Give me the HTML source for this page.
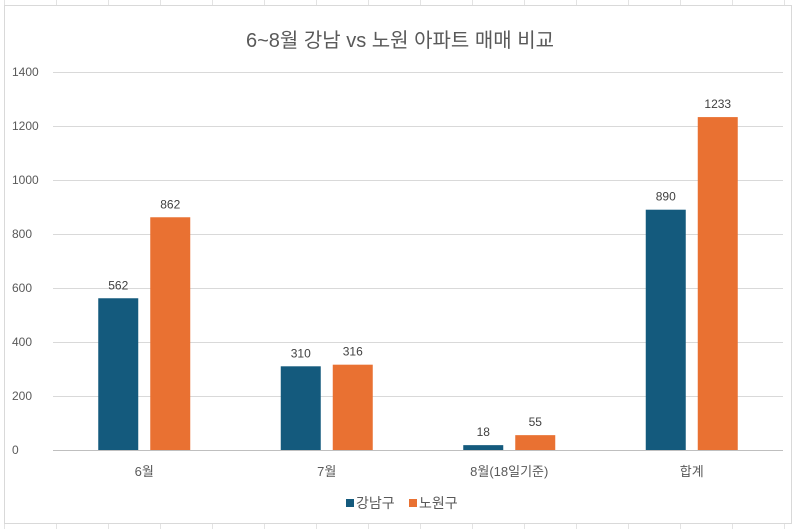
<!DOCTYPE html>
<html><head><meta charset="utf-8"><style>
html,body{margin:0;padding:0;background:#fff;}
svg{display:block;font-family:"Liberation Sans","Noto Sans CJK KR",sans-serif;}
</style></head><body>
<svg id="c" width="800" height="529" viewBox="0 0 800 529">
<g id="bg"></g>
<rect x="4.5" y="5.5" width="787" height="518" fill="#fff" stroke="#d9d9d9"/>
<text x="400" y="47" text-anchor="middle" font-size="20" fill="#595959">6~8월 강남 vs 노원 아파트 매매 비교</text>
<g id="plot"></g>
<g>
<rect x="346" y="499" width="8" height="8" fill="#145a7d"/>
<text x="356" y="508" font-size="14" fill="#595959">강남구</text>
<rect x="409" y="499" width="8" height="8" fill="#e97132"/>
<text x="419" y="508" font-size="14" fill="#595959">노원구</text>
</g>
</svg>
<script>
const categories = ["6월","7월","8월(18일기준)","합계"];
const gangnam = [562,310,18,890];
const nowon = [862,316,55,1233];
const yTicks = [0,200,400,600,800,1000,1200,1400];
const NS="http://www.w3.org/2000/svg";
const x0=53,x1=783,yBase=450,yTop=72,yMax=1400;
const y=v=>yBase-(yBase-yTop)*v/yMax;
const bw=(x1-x0)/categories.length;
const cx=i=>x0+bw*(i+0.5);
const plot=document.getElementById('plot');
function mk(tag,attrs,parent){const e=document.createElementNS(NS,tag);for(const k in attrs)e.setAttribute(k,attrs[k]);(parent||plot).appendChild(e);return e;}
const bg=document.getElementById('bg');
for(let gx=4;gx<800;gx+=52){const l=mk('line',{x1:gx+.5,x2:gx+.5,y1:0,y2:529,stroke:'#e3e3e3'},bg);

}
yTicks.forEach(t=>{
 const l=mk('line',{x1:x0,x2:x1,y1:y(t)+.5,y2:y(t)+.5,stroke:t===0?'#bfbfbf':'#d9d9d9'});
 
 
 const tx=mk('text',{x:12,y:y(t)+4,'font-size':12,fill:'#595959'});
 tx.textContent=t;
 
 
});
categories.forEach((c,i)=>{
 const m=cx(i);
 [[gangnam,'#145a7d',-46,'bar-gangnam'],[nowon,'#e97132',6,'bar-nowon']].forEach(([arr,col,off,nm])=>{
  const v=arr[i];
  const r=mk('rect',{x:m+off,y:y(v),width:40,height:yBase-y(v),fill:col});
  
  
  const t=mk('text',{x:m+off+20,y:y(v)-9,'text-anchor':'middle','font-size':12,fill:'#404040'});
  t.textContent=v;
  
  
 });
 const t=mk('text',{x:m,y:476,'text-anchor':'middle','font-size':13,fill:'#595959'});
 t.textContent=c;
 
 
});
</script>
</body></html>
